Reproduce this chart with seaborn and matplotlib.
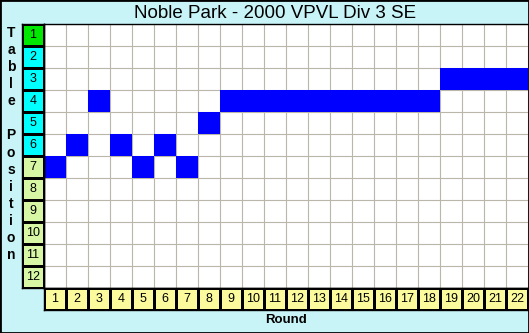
import matplotlib
matplotlib.use('Agg')
import matplotlib.pyplot as plt
import seaborn as sns
import numpy as np
import pandas as pd
from matplotlib.colors import ListedColormap
from matplotlib.patches import Rectangle

# ---- data ----
rounds = list(range(1, 23))
positions = list(range(1, 13))
team_position = [7, 6, 4, 6, 7, 6, 7, 5, 4, 4, 4, 4, 4, 4, 4, 4, 4, 4, 3, 3, 3, 3]
position_zone = [0, 1, 1, 1, 1, 1, 2, 2, 2, 2, 2, 2]  # colour group of each position label
title = "Noble Park - 2000 VPVL Div 3 SE"
ylabel = "Table Position"
xlabel = "Round"

BG = '#c8f4f8'
FONT = 'Liberation Sans'
W, H = 529, 333

fig = plt.figure(figsize=(W / 100, H / 100), dpi=100)
fig.patch.set_facecolor(BG)


def box(x0, y0, x1, y1):
    return [x0 / W, 1 - y1 / H, (x1 - x0) / W, (y1 - y0) / H]


# ---- main grid ----
ax = fig.add_axes(box(44, 24, 528, 288))
grid = pd.DataFrame([[1 if team_position[r - 1] == p else 0 for r in rounds] for p in positions],
                    index=positions, columns=rounds)
ax.set_facecolor('white')
sns.heatmap(grid, mask=(grid == 0), cmap=ListedColormap(['white', '#0000ff']), vmin=0, vmax=1,
            cbar=False, ax=ax, xticklabels=False, yticklabels=False)
ax.set_xticks(np.arange(0, len(rounds) + 1), minor=True)
ax.set_yticks(np.arange(0, len(positions) + 1), minor=True)
ax.set_axisbelow(True)
ax.grid(which='minor', color='#bab6aa', linewidth=0.8)
ax.tick_params(which='both', length=0)
for s in ['top', 'left', 'bottom']:
    ax.spines[s].set_visible(True)
    ax.spines[s].set_color('black')
    ax.spines[s].set_linewidth(1)

# ---- position label column ----
axl = fig.add_axes(box(22, 24, 44, 288))
zone_df = pd.DataFrame({'z': position_zone}, index=positions)
sns.heatmap(zone_df, cmap=ListedColormap(['#00e800', '#00ffff', '#d8f7a4']), vmin=-0.5, vmax=2.5,
            annot=np.array(positions).reshape(-1, 1), fmt='d',
            annot_kws={'color': 'black', 'fontsize': 9, 'family': FONT},
            linewidths=1, linecolor='black', cbar=False, ax=axl,
            xticklabels=False, yticklabels=False)
for s in axl.spines.values():
    s.set_visible(True)
    s.set_color('black')
    s.set_linewidth(1)
axl.tick_params(length=0)

# ---- round label row ----
axr = fig.add_axes(box(44, 288, 528, 310))
round_df = pd.DataFrame([[0] * len(rounds)], columns=rounds)
sns.heatmap(round_df, cmap=ListedColormap(['#fbfb9e']), vmin=0, vmax=1,
            annot=np.array(rounds).reshape(1, -1), fmt='d',
            annot_kws={'color': 'black', 'fontsize': 9, 'family': FONT},
            linewidths=1, linecolor='black', cbar=False, ax=axr,
            xticklabels=False, yticklabels=False)
for s in axr.spines.values():
    s.set_visible(True)
    s.set_color('black')
    s.set_linewidth(1)
axr.tick_params(length=0)

# ---- texts ----
fig.text(275 / W, 1 - 13 / H, title, ha='center', va='center', fontsize=13.5, family=FONT)
fig.text(286 / W, 1 - 320 / H, xlabel, ha='center', va='center', fontsize=9.5,
         fontweight='bold', family=FONT)
for i, ch in enumerate(ylabel):
    if ch != ' ':
        fig.text(11 / W, 1 - (33 + i * 17.08) / H, ch, ha='center', va='center', fontsize=10,
                 fontweight='bold', family=FONT)

fig.add_artist(Rectangle((0, 0), 1, 1, transform=fig.transFigure, fill=False,
                         edgecolor='black', linewidth=2))

fig.savefig('out.png', dpi=100, facecolor=BG)
